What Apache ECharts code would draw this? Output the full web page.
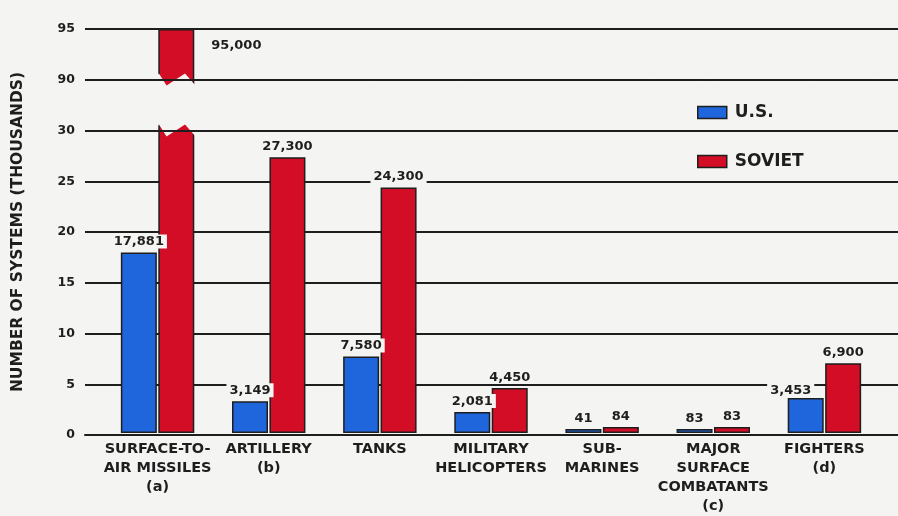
<!DOCTYPE html>
<html>
<head>
<meta charset="utf-8">
<script src="https://cdn.jsdelivr.net/npm/echarts@6/dist/echarts.min.js"></script>
<style>html,body{margin:0;padding:0;background:#f4f4f2;}#c{width:898px;height:516px;}</style>
</head>
<body>
<div id="c"></div>
<script>
var categories = ['SURFACE-TO-\nAIR MISSILES\n(a)', 'ARTILLERY\n(b)', 'TANKS', 'MILITARY\nHELICOPTERS', 'SUB-\nMARINES', 'MAJOR\nSURFACE\nCOMBATANTS\n(c)', 'FIGHTERS\n(d)'];
// values in thousands of systems
var usValues = [17.881, 3.149, 7.580, 2.081, 0.041, 0.083, 3.453];
var sovietValues = [95.000, 27.300, 24.300, 4.450, 0.084, 0.083, 6.900];
var seriesNames = ['U.S.', 'SOVIET'];
var yTicks = [0, 5, 10, 15, 20, 25, 30, 90, 95];
var axisBreak = {start: 30, end: 90};

var FONT = '"DejaVu Sans", "Liberation Sans", Arial, sans-serif';
var INK = '#1e1e1e';
var BG = '#f4f4f2';
var BLUE = '#1f66dc';
var RED = '#d20d25';

function fmt(v) {
  return Math.round(v * 1000).toLocaleString('en-US');
}

var labelBase = {
  show: true, position: 'top', distance: 4,
  formatter: function (p) { return fmt(p.value); },
  fontFamily: FONT, fontSize: 13, fontWeight: 'bold', color: INK,
  backgroundColor: BG, padding: [1, 3, 0, 3]
};

function makeData(values, special) {
  return values.map(function (v, i) {
    var d = {value: v};
    if (special[i]) d.label = special[i];
    return d;
  });
}

var usData = makeData(usValues, {6: {position: 'top', offset: [-15, 3]}});
var sovietData = makeData(sovietValues, {0: {position: [50, 9]}});

var yCommon = {
  type: 'value', min: yTicks[0], max: yTicks[yTicks.length - 1], interval: 5,
  breaks: [{start: axisBreak.start, end: axisBreak.end, gap: 5}]
};

var option = {
  backgroundColor: BG,
  animation: false,
  legend: {
    z: 300,
    icon: 'rect',
    orient: 'vertical', left: 692, top: 99, itemGap: 32,
    itemWidth: 29, itemHeight: 12,
    itemStyle: {borderColor: INK, borderWidth: 1.5},
    textStyle: {fontFamily: FONT, fontSize: 17, fontWeight: 'bold', color: INK, padding: [0, 0, 0, 3]},
    data: seriesNames
  },
  grid: [
    {left: 85, right: 0, top: 29, bottom: 81},
    {left: 102, right: 18, top: 29, bottom: 81}
  ],
  xAxis: [
    {gridIndex: 0, type: 'value', min: 0, max: 1, axisLabel: {show: false}, axisTick: {show: false},
     splitLine: {show: false}, axisLine: {show: true, lineStyle: {color: INK, width: 2}}},
    {gridIndex: 1, type: 'category', data: categories, axisTick: {show: false}, axisLine: {show: false},
     axisLabel: {margin: 7, fontFamily: FONT, fontSize: 14.5, fontWeight: 'bold', color: INK, lineHeight: 19, interval: 0}}
  ],
  yAxis: [
    Object.assign({}, yCommon, {
      gridIndex: 0,
      name: 'NUMBER OF SYSTEMS (THOUSANDS)', nameLocation: 'middle', nameGap: 59,
      nameTextStyle: {fontFamily: FONT, fontSize: 15.5, fontWeight: 'bold', color: INK},
      axisLine: {show: false}, axisTick: {show: false},
      axisLabel: {margin: 10, fontFamily: FONT, fontSize: 12.5, fontWeight: 'bold', color: INK},
      splitLine: {show: true, lineStyle: {color: INK, width: 2}},
      breakArea: {show: false}
    }),
    Object.assign({}, yCommon, {
      gridIndex: 1,
      axisLine: {show: false}, axisTick: {show: false}, axisLabel: {show: false},
      splitLine: {show: false},
      breakArea: {show: true, itemStyle: {color: BG, opacity: 1, borderWidth: 0}, zigzagAmplitude: 6}
    })
  ],
  series: [
    {name: seriesNames[0], type: 'bar', xAxisIndex: 1, yAxisIndex: 1, data: usData,
     barWidth: 36, barGap: '4%', barMinHeight: 4,
     itemStyle: {color: BLUE, borderColor: INK, borderWidth: 1.5},
     label: labelBase},
    {name: seriesNames[1], type: 'bar', xAxisIndex: 1, yAxisIndex: 1, data: sovietData,
     barWidth: 36, barGap: '4%', barMinHeight: 6,
     itemStyle: {color: RED, borderColor: INK, borderWidth: 1.5},
     label: labelBase},
    // gridlines at the break edges, redrawn above the break band
    {name: 'break-edges', type: 'line', xAxisIndex: 0, yAxisIndex: 0, data: [], z: 150, silent: true,
     markLine: {z: 150, silent: true, symbol: 'none', label: {show: false},
                lineStyle: {color: INK, width: 2, type: 'solid'},
                data: [{yAxis: axisBreak.start}, {yAxis: axisBreak.end}]}}
  ]
};

var chart = echarts.init(document.getElementById('c'), null, {renderer: 'canvas'});
chart.setOption(option);
</script>
</body>
</html>
